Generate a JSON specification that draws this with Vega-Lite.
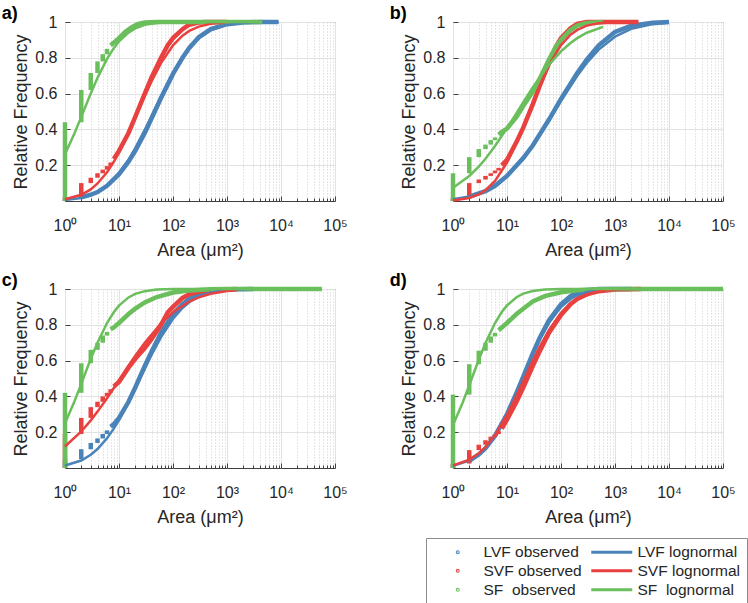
{
"$schema":"https://vega.github.io/schema/vega-lite/v6.json",
"padding":{"left":1,"top":4,"right":0,"bottom":0},
"background":"white",
"config":{"font":"Liberation Sans","view":{"stroke":"#404040","strokeWidth":1},
 "title":{"anchor":"start","frame":"bounds","fontSize":18,"fontWeight":"bold","color":"#000000","font":"Liberation Sans","dx":-11,"offset":-10},
 "axis":{"labelFont":"Liberation Sans","titleFont":"Liberation Sans","labelColor":"#262626","titleColor":"#262626","titleFontWeight":"normal","labelFontSize":16,"titleFontSize":18,"domain":false,"tickColor":"#404040","gridColor":"#e2e2e2"},
 "legend":{"labelFont":"Liberation Sans","orient":"none","legendX":361,"legendY":516,"columns":2,"direction":"vertical","labelFontSize":15.5,"labelColor":"#262626","symbolSize":100,"symbolStrokeWidth":3,"symbolOpacity":1,"symbolOffset":18,"strokeColor":"#8c8c8c","fillColor":"#ffffff","padding":6,"rowPadding":2,"columnPadding":3,"labelOffset":18}
},
"datasets":{
"a":[
{"s":"LVF observed","g":"1","x":1,"y":0},{"s":"LVF observed","g":"1","x":1,"y":0.012},
{"s":"LVF observed","g":"c","x":2,"y":0.02},{"s":"LVF observed","g":"c","x":3,"y":0.035},{"s":"LVF observed","g":"c","x":4,"y":0.05},{"s":"LVF observed","g":"c","x":6,"y":0.085},{"s":"LVF observed","g":"c","x":10,"y":0.15},{"s":"LVF observed","g":"c","x":15,"y":0.22},{"s":"LVF observed","g":"c","x":20,"y":0.28},{"s":"LVF observed","g":"c","x":30,"y":0.38},{"s":"LVF observed","g":"c","x":40,"y":0.46},{"s":"LVF observed","g":"c","x":60,"y":0.575},{"s":"LVF observed","g":"c","x":100,"y":0.71},{"s":"LVF observed","g":"c","x":150,"y":0.8},{"s":"LVF observed","g":"c","x":200,"y":0.855},{"s":"LVF observed","g":"c","x":300,"y":0.915},{"s":"LVF observed","g":"c","x":500,"y":0.96},{"s":"LVF observed","g":"c","x":1000,"y":0.988},{"s":"LVF observed","g":"c","x":2000,"y":0.997},{"s":"LVF observed","g":"c","x":4000,"y":1},{"s":"LVF observed","g":"c","x":9000,"y":1},
{"s":"LVF lognormal","g":"L","x":1,"y":0.005},{"s":"LVF lognormal","g":"L","x":2,"y":0.017},{"s":"LVF lognormal","g":"L","x":3,"y":0.032},{"s":"LVF lognormal","g":"L","x":4,"y":0.049},{"s":"LVF lognormal","g":"L","x":6,"y":0.085},{"s":"LVF lognormal","g":"L","x":10,"y":0.154},{"s":"LVF lognormal","g":"L","x":15,"y":0.23},{"s":"LVF lognormal","g":"L","x":20,"y":0.295},{"s":"LVF lognormal","g":"L","x":30,"y":0.397},{"s":"LVF lognormal","g":"L","x":40,"y":0.475},{"s":"LVF lognormal","g":"L","x":60,"y":0.586},{"s":"LVF lognormal","g":"L","x":100,"y":0.715},{"s":"LVF lognormal","g":"L","x":150,"y":0.803},{"s":"LVF lognormal","g":"L","x":200,"y":0.852},{"s":"LVF lognormal","g":"L","x":300,"y":0.908},{"s":"LVF lognormal","g":"L","x":500,"y":0.954},{"s":"LVF lognormal","g":"L","x":1000,"y":0.985},{"s":"LVF lognormal","g":"L","x":2000,"y":0.996},{"s":"LVF lognormal","g":"L","x":5000,"y":1},{"s":"LVF lognormal","g":"L","x":9000,"y":1},
{"s":"SVF observed","g":"1","x":1,"y":0},{"s":"SVF observed","g":"1","x":1,"y":0.02},
{"s":"SVF observed","g":"2","x":2,"y":0.02},{"s":"SVF observed","g":"2","x":2,"y":0.1},
{"s":"SVF observed","g":"3","x":3,"y":0.1},{"s":"SVF observed","g":"3","x":3,"y":0.13},
{"s":"SVF observed","g":"4","x":4,"y":0.13},{"s":"SVF observed","g":"4","x":4,"y":0.155},
{"s":"SVF observed","g":"5","x":5,"y":0.155},{"s":"SVF observed","g":"5","x":5,"y":0.175},
{"s":"SVF observed","g":"6","x":6,"y":0.175},{"s":"SVF observed","g":"6","x":6,"y":0.195},
{"s":"SVF observed","g":"7","x":7,"y":0.195},{"s":"SVF observed","g":"7","x":7,"y":0.215},
{"s":"SVF observed","g":"c","x":8,"y":0.235},{"s":"SVF observed","g":"c","x":10,"y":0.28},{"s":"SVF observed","g":"c","x":15,"y":0.38},{"s":"SVF observed","g":"c","x":20,"y":0.47},{"s":"SVF observed","g":"c","x":30,"y":0.6},{"s":"SVF observed","g":"c","x":40,"y":0.69},{"s":"SVF observed","g":"c","x":60,"y":0.8},{"s":"SVF observed","g":"c","x":80,"y":0.87},{"s":"SVF observed","g":"c","x":100,"y":0.91},{"s":"SVF observed","g":"c","x":150,"y":0.96},{"s":"SVF observed","g":"c","x":200,"y":0.985},{"s":"SVF observed","g":"c","x":300,"y":0.997},{"s":"SVF observed","g":"c","x":400,"y":1},{"s":"SVF observed","g":"c","x":1000,"y":1},
{"s":"SVF lognormal","g":"L","x":1,"y":0.01},{"s":"SVF lognormal","g":"L","x":2,"y":0.035},{"s":"SVF lognormal","g":"L","x":3,"y":0.065},{"s":"SVF lognormal","g":"L","x":4,"y":0.098},{"s":"SVF lognormal","g":"L","x":6,"y":0.161},{"s":"SVF lognormal","g":"L","x":8,"y":0.219},{"s":"SVF lognormal","g":"L","x":10,"y":0.272},{"s":"SVF lognormal","g":"L","x":15,"y":0.381},{"s":"SVF lognormal","g":"L","x":20,"y":0.466},{"s":"SVF lognormal","g":"L","x":30,"y":0.587},{"s":"SVF lognormal","g":"L","x":40,"y":0.668},{"s":"SVF lognormal","g":"L","x":60,"y":0.77},{"s":"SVF lognormal","g":"L","x":100,"y":0.87},{"s":"SVF lognormal","g":"L","x":150,"y":0.924},{"s":"SVF lognormal","g":"L","x":200,"y":0.95},{"s":"SVF lognormal","g":"L","x":300,"y":0.974},{"s":"SVF lognormal","g":"L","x":500,"y":0.99},{"s":"SVF lognormal","g":"L","x":1000,"y":0.998},
{"s":"SF observed","g":"1","x":1,"y":0},{"s":"SF observed","g":"1","x":1,"y":0.44},
{"s":"SF observed","g":"2","x":2,"y":0.44},{"s":"SF observed","g":"2","x":2,"y":0.62},
{"s":"SF observed","g":"3","x":3,"y":0.62},{"s":"SF observed","g":"3","x":3,"y":0.715},
{"s":"SF observed","g":"4","x":4,"y":0.715},{"s":"SF observed","g":"4","x":4,"y":0.78},
{"s":"SF observed","g":"5","x":5,"y":0.78},{"s":"SF observed","g":"5","x":5,"y":0.82},
{"s":"SF observed","g":"6","x":6,"y":0.82},{"s":"SF observed","g":"6","x":6,"y":0.85},
{"s":"SF observed","g":"c","x":7,"y":0.87},{"s":"SF observed","g":"c","x":8,"y":0.885},{"s":"SF observed","g":"c","x":10,"y":0.91},{"s":"SF observed","g":"c","x":13,"y":0.945},{"s":"SF observed","g":"c","x":17,"y":0.97},{"s":"SF observed","g":"c","x":22,"y":0.988},{"s":"SF observed","g":"c","x":30,"y":0.997},{"s":"SF observed","g":"c","x":50,"y":1},{"s":"SF observed","g":"c","x":4500,"y":1},
{"s":"SF lognormal","g":"L","x":1,"y":0.261},{"s":"SF lognormal","g":"L","x":1.5,"y":0.378},{"s":"SF lognormal","g":"L","x":2,"y":0.47},{"s":"SF lognormal","g":"L","x":3,"y":0.601},{"s":"SF lognormal","g":"L","x":4,"y":0.688},{"s":"SF lognormal","g":"L","x":6,"y":0.794},{"s":"SF lognormal","g":"L","x":8,"y":0.854},{"s":"SF lognormal","g":"L","x":10,"y":0.892},{"s":"SF lognormal","g":"L","x":15,"y":0.941},{"s":"SF lognormal","g":"L","x":20,"y":0.964},{"s":"SF lognormal","g":"L","x":30,"y":0.984},{"s":"SF lognormal","g":"L","x":50,"y":0.995},{"s":"SF lognormal","g":"L","x":100,"y":0.999},{"s":"SF lognormal","g":"L","x":4500,"y":1}
],
"b":[
{"s":"LVF observed","g":"1","x":1,"y":0},{"s":"LVF observed","g":"1","x":1,"y":0.01},
{"s":"LVF observed","g":"c","x":2,"y":0.025},{"s":"LVF observed","g":"c","x":4,"y":0.055},{"s":"LVF observed","g":"c","x":6,"y":0.085},{"s":"LVF observed","g":"c","x":10,"y":0.14},{"s":"LVF observed","g":"c","x":20,"y":0.24},{"s":"LVF observed","g":"c","x":30,"y":0.31},{"s":"LVF observed","g":"c","x":60,"y":0.455},{"s":"LVF observed","g":"c","x":100,"y":0.57},{"s":"LVF observed","g":"c","x":200,"y":0.715},{"s":"LVF observed","g":"c","x":300,"y":0.79},{"s":"LVF observed","g":"c","x":500,"y":0.87},{"s":"LVF observed","g":"c","x":1000,"y":0.945},{"s":"LVF observed","g":"c","x":2000,"y":0.98},{"s":"LVF observed","g":"c","x":5000,"y":0.996},{"s":"LVF observed","g":"c","x":10000,"y":1},
{"s":"LVF lognormal","g":"L","x":1,"y":0.01},{"s":"LVF lognormal","g":"L","x":2,"y":0.025},{"s":"LVF lognormal","g":"L","x":4,"y":0.056},{"s":"LVF lognormal","g":"L","x":6,"y":0.085},{"s":"LVF lognormal","g":"L","x":10,"y":0.137},{"s":"LVF lognormal","g":"L","x":20,"y":0.235},{"s":"LVF lognormal","g":"L","x":30,"y":0.308},{"s":"LVF lognormal","g":"L","x":60,"y":0.449},{"s":"LVF lognormal","g":"L","x":100,"y":0.559},{"s":"LVF lognormal","g":"L","x":200,"y":0.7},{"s":"LVF lognormal","g":"L","x":300,"y":0.771},{"s":"LVF lognormal","g":"L","x":500,"y":0.846},{"s":"LVF lognormal","g":"L","x":1000,"y":0.918},{"s":"LVF lognormal","g":"L","x":2000,"y":0.962},{"s":"LVF lognormal","g":"L","x":5000,"y":0.988},{"s":"LVF lognormal","g":"L","x":10000,"y":0.996},
{"s":"SVF observed","g":"1","x":1,"y":0},{"s":"SVF observed","g":"1","x":1,"y":0.02},
{"s":"SVF observed","g":"2","x":2,"y":0.02},{"s":"SVF observed","g":"2","x":2,"y":0.1},
{"s":"SVF observed","g":"3","x":3,"y":0.1},{"s":"SVF observed","g":"3","x":3,"y":0.12},
{"s":"SVF observed","g":"4","x":4,"y":0.12},{"s":"SVF observed","g":"4","x":4,"y":0.14},
{"s":"SVF observed","g":"5","x":5,"y":0.14},{"s":"SVF observed","g":"5","x":5,"y":0.155},
{"s":"SVF observed","g":"6","x":6,"y":0.155},{"s":"SVF observed","g":"6","x":6,"y":0.17},
{"s":"SVF observed","g":"7","x":7,"y":0.17},{"s":"SVF observed","g":"7","x":7,"y":0.185},
{"s":"SVF observed","g":"c","x":8,"y":0.2},{"s":"SVF observed","g":"c","x":10,"y":0.23},{"s":"SVF observed","g":"c","x":15,"y":0.33},{"s":"SVF observed","g":"c","x":20,"y":0.41},{"s":"SVF observed","g":"c","x":30,"y":0.54},{"s":"SVF observed","g":"c","x":40,"y":0.64},{"s":"SVF observed","g":"c","x":60,"y":0.77},{"s":"SVF observed","g":"c","x":80,"y":0.86},{"s":"SVF observed","g":"c","x":100,"y":0.91},{"s":"SVF observed","g":"c","x":150,"y":0.965},{"s":"SVF observed","g":"c","x":200,"y":0.99},{"s":"SVF observed","g":"c","x":300,"y":1},{"s":"SVF observed","g":"c","x":2700,"y":1},
{"s":"SVF lognormal","g":"L","x":1,"y":0.003},{"s":"SVF lognormal","g":"L","x":2,"y":0.017},{"s":"SVF lognormal","g":"L","x":3,"y":0.037},{"s":"SVF lognormal","g":"L","x":4,"y":0.06},{"s":"SVF lognormal","g":"L","x":6,"y":0.112},{"s":"SVF lognormal","g":"L","x":10,"y":0.215},{"s":"SVF lognormal","g":"L","x":15,"y":0.326},{"s":"SVF lognormal","g":"L","x":20,"y":0.416},{"s":"SVF lognormal","g":"L","x":30,"y":0.55},{"s":"SVF lognormal","g":"L","x":40,"y":0.643},{"s":"SVF lognormal","g":"L","x":60,"y":0.759},{"s":"SVF lognormal","g":"L","x":100,"y":0.871},{"s":"SVF lognormal","g":"L","x":150,"y":0.929},{"s":"SVF lognormal","g":"L","x":200,"y":0.956},{"s":"SVF lognormal","g":"L","x":300,"y":0.98},{"s":"SVF lognormal","g":"L","x":500,"y":0.993},{"s":"SVF lognormal","g":"L","x":1000,"y":0.999},{"s":"SVF lognormal","g":"L","x":2700,"y":1},
{"s":"SF observed","g":"1","x":1,"y":0},{"s":"SF observed","g":"1","x":1,"y":0.155},
{"s":"SF observed","g":"2","x":2,"y":0.155},{"s":"SF observed","g":"2","x":2,"y":0.245},
{"s":"SF observed","g":"3","x":3,"y":0.245},{"s":"SF observed","g":"3","x":3,"y":0.29},
{"s":"SF observed","g":"4","x":4,"y":0.29},{"s":"SF observed","g":"4","x":4,"y":0.315},
{"s":"SF observed","g":"5","x":5,"y":0.315},{"s":"SF observed","g":"5","x":5,"y":0.34},
{"s":"SF observed","g":"6","x":6,"y":0.34},{"s":"SF observed","g":"6","x":6,"y":0.355},
{"s":"SF observed","g":"c","x":7,"y":0.37},{"s":"SF observed","g":"c","x":8,"y":0.385},{"s":"SF observed","g":"c","x":10,"y":0.405},{"s":"SF observed","g":"c","x":15,"y":0.47},{"s":"SF observed","g":"c","x":20,"y":0.53},{"s":"SF observed","g":"c","x":30,"y":0.61},{"s":"SF observed","g":"c","x":40,"y":0.68},{"s":"SF observed","g":"c","x":60,"y":0.79},{"s":"SF observed","g":"c","x":80,"y":0.86},{"s":"SF observed","g":"c","x":100,"y":0.9},{"s":"SF observed","g":"c","x":150,"y":0.955},{"s":"SF observed","g":"c","x":200,"y":0.98},{"s":"SF observed","g":"c","x":300,"y":0.995},{"s":"SF observed","g":"c","x":600,"y":1},
{"s":"SF lognormal","g":"L","x":1,"y":0.074},{"s":"SF lognormal","g":"L","x":2,"y":0.14},{"s":"SF lognormal","g":"L","x":3,"y":0.192},{"s":"SF lognormal","g":"L","x":4,"y":0.236},{"s":"SF lognormal","g":"L","x":6,"y":0.307},{"s":"SF lognormal","g":"L","x":10,"y":0.407},{"s":"SF lognormal","g":"L","x":15,"y":0.491},{"s":"SF lognormal","g":"L","x":20,"y":0.552},{"s":"SF lognormal","g":"L","x":30,"y":0.634},{"s":"SF lognormal","g":"L","x":40,"y":0.689},{"s":"SF lognormal","g":"L","x":60,"y":0.761},{"s":"SF lognormal","g":"L","x":100,"y":0.836},{"s":"SF lognormal","g":"L","x":150,"y":0.883},{"s":"SF lognormal","g":"L","x":200,"y":0.91},{"s":"SF lognormal","g":"L","x":300,"y":0.94},{"s":"SF lognormal","g":"L","x":600,"y":0.973}
],
"c":[
{"s":"LVF observed","g":"1","x":1,"y":0},{"s":"LVF observed","g":"1","x":1,"y":0.05},
{"s":"LVF observed","g":"2","x":2,"y":0.05},{"s":"LVF observed","g":"2","x":2,"y":0.105},
{"s":"LVF observed","g":"3","x":3,"y":0.105},{"s":"LVF observed","g":"3","x":3,"y":0.14},
{"s":"LVF observed","g":"4","x":4,"y":0.14},{"s":"LVF observed","g":"4","x":4,"y":0.165},
{"s":"LVF observed","g":"5","x":5,"y":0.165},{"s":"LVF observed","g":"5","x":5,"y":0.19},
{"s":"LVF observed","g":"6","x":6,"y":0.19},{"s":"LVF observed","g":"6","x":6,"y":0.21},
{"s":"LVF observed","g":"c","x":7,"y":0.23},{"s":"LVF observed","g":"c","x":8,"y":0.245},{"s":"LVF observed","g":"c","x":10,"y":0.28},{"s":"LVF observed","g":"c","x":15,"y":0.37},{"s":"LVF observed","g":"c","x":20,"y":0.45},{"s":"LVF observed","g":"c","x":30,"y":0.57},{"s":"LVF observed","g":"c","x":40,"y":0.65},{"s":"LVF observed","g":"c","x":60,"y":0.755},{"s":"LVF observed","g":"c","x":100,"y":0.86},{"s":"LVF observed","g":"c","x":150,"y":0.915},{"s":"LVF observed","g":"c","x":200,"y":0.945},{"s":"LVF observed","g":"c","x":300,"y":0.97},{"s":"LVF observed","g":"c","x":500,"y":0.988},{"s":"LVF observed","g":"c","x":1000,"y":0.997},{"s":"LVF observed","g":"c","x":3000,"y":1},
{"s":"LVF lognormal","g":"L","x":1,"y":0.014},{"s":"LVF lognormal","g":"L","x":2,"y":0.042},{"s":"LVF lognormal","g":"L","x":3,"y":0.074},{"s":"LVF lognormal","g":"L","x":4,"y":0.106},{"s":"LVF lognormal","g":"L","x":6,"y":0.166},{"s":"LVF lognormal","g":"L","x":8,"y":0.22},{"s":"LVF lognormal","g":"L","x":10,"y":0.268},{"s":"LVF lognormal","g":"L","x":15,"y":0.367},{"s":"LVF lognormal","g":"L","x":20,"y":0.444},{"s":"LVF lognormal","g":"L","x":30,"y":0.555},{"s":"LVF lognormal","g":"L","x":40,"y":0.632},{"s":"LVF lognormal","g":"L","x":60,"y":0.731},{"s":"LVF lognormal","g":"L","x":100,"y":0.834},{"s":"LVF lognormal","g":"L","x":150,"y":0.894},{"s":"LVF lognormal","g":"L","x":200,"y":0.926},{"s":"LVF lognormal","g":"L","x":300,"y":0.958},{"s":"LVF lognormal","g":"L","x":500,"y":0.981},{"s":"LVF lognormal","g":"L","x":1000,"y":0.995},{"s":"LVF lognormal","g":"L","x":3000,"y":1},
{"s":"SVF observed","g":"1","x":1,"y":0},{"s":"SVF observed","g":"1","x":1,"y":0.19},
{"s":"SVF observed","g":"2","x":2,"y":0.19},{"s":"SVF observed","g":"2","x":2,"y":0.28},
{"s":"SVF observed","g":"3","x":3,"y":0.28},{"s":"SVF observed","g":"3","x":3,"y":0.34},
{"s":"SVF observed","g":"4","x":4,"y":0.34},{"s":"SVF observed","g":"4","x":4,"y":0.37},
{"s":"SVF observed","g":"5","x":5,"y":0.37},{"s":"SVF observed","g":"5","x":5,"y":0.4},
{"s":"SVF observed","g":"6","x":6,"y":0.4},{"s":"SVF observed","g":"6","x":6,"y":0.42},
{"s":"SVF observed","g":"7","x":7,"y":0.42},{"s":"SVF observed","g":"7","x":7,"y":0.44},
{"s":"SVF observed","g":"c","x":8,"y":0.455},{"s":"SVF observed","g":"c","x":10,"y":0.48},{"s":"SVF observed","g":"c","x":15,"y":0.56},{"s":"SVF observed","g":"c","x":20,"y":0.61},{"s":"SVF observed","g":"c","x":30,"y":0.67},{"s":"SVF observed","g":"c","x":40,"y":0.72},{"s":"SVF observed","g":"c","x":60,"y":0.8},{"s":"SVF observed","g":"c","x":80,"y":0.87},{"s":"SVF observed","g":"c","x":100,"y":0.9},{"s":"SVF observed","g":"c","x":150,"y":0.95},{"s":"SVF observed","g":"c","x":200,"y":0.97},{"s":"SVF observed","g":"c","x":300,"y":0.985},{"s":"SVF observed","g":"c","x":500,"y":0.995},{"s":"SVF observed","g":"c","x":1500,"y":1},
{"s":"SVF lognormal","g":"L","x":1,"y":0.12},{"s":"SVF lognormal","g":"L","x":2,"y":0.204},{"s":"SVF lognormal","g":"L","x":3,"y":0.266},{"s":"SVF lognormal","g":"L","x":4,"y":0.315},{"s":"SVF lognormal","g":"L","x":6,"y":0.39},{"s":"SVF lognormal","g":"L","x":10,"y":0.49},{"s":"SVF lognormal","g":"L","x":15,"y":0.571},{"s":"SVF lognormal","g":"L","x":20,"y":0.627},{"s":"SVF lognormal","g":"L","x":30,"y":0.7},{"s":"SVF lognormal","g":"L","x":60,"y":0.808},{"s":"SVF lognormal","g":"L","x":100,"y":0.87},{"s":"SVF lognormal","g":"L","x":200,"y":0.93},{"s":"SVF lognormal","g":"L","x":300,"y":0.953},{"s":"SVF lognormal","g":"L","x":500,"y":0.973},{"s":"SVF lognormal","g":"L","x":1000,"y":0.989},{"s":"SVF lognormal","g":"L","x":1500,"y":0.993},
{"s":"SF observed","g":"1","x":1,"y":0},{"s":"SF observed","g":"1","x":1,"y":0.42},
{"s":"SF observed","g":"2","x":2,"y":0.42},{"s":"SF observed","g":"2","x":2,"y":0.585},
{"s":"SF observed","g":"3","x":3,"y":0.585},{"s":"SF observed","g":"3","x":3,"y":0.66},
{"s":"SF observed","g":"4","x":4,"y":0.66},{"s":"SF observed","g":"4","x":4,"y":0.7},
{"s":"SF observed","g":"5","x":5,"y":0.7},{"s":"SF observed","g":"5","x":5,"y":0.74},
{"s":"SF observed","g":"6","x":6,"y":0.74},{"s":"SF observed","g":"6","x":6,"y":0.76},
{"s":"SF observed","g":"c","x":7,"y":0.775},{"s":"SF observed","g":"c","x":8,"y":0.785},{"s":"SF observed","g":"c","x":10,"y":0.81},{"s":"SF observed","g":"c","x":15,"y":0.86},{"s":"SF observed","g":"c","x":20,"y":0.89},{"s":"SF observed","g":"c","x":30,"y":0.925},{"s":"SF observed","g":"c","x":50,"y":0.955},{"s":"SF observed","g":"c","x":100,"y":0.98},{"s":"SF observed","g":"c","x":200,"y":0.992},{"s":"SF observed","g":"c","x":500,"y":0.998},{"s":"SF observed","g":"c","x":1000,"y":1},{"s":"SF observed","g":"c","x":57000,"y":1},
{"s":"SF lognormal","g":"L","x":1,"y":0.25},{"s":"SF lognormal","g":"L","x":1.5,"y":0.373},{"s":"SF lognormal","g":"L","x":2,"y":0.47},{"s":"SF lognormal","g":"L","x":3,"y":0.61},{"s":"SF lognormal","g":"L","x":4,"y":0.7},{"s":"SF lognormal","g":"L","x":6,"y":0.81},{"s":"SF lognormal","g":"L","x":8,"y":0.87},{"s":"SF lognormal","g":"L","x":10,"y":0.907},{"s":"SF lognormal","g":"L","x":15,"y":0.953},{"s":"SF lognormal","g":"L","x":20,"y":0.973},{"s":"SF lognormal","g":"L","x":30,"y":0.988},{"s":"SF lognormal","g":"L","x":50,"y":0.997},{"s":"SF lognormal","g":"L","x":100,"y":1},{"s":"SF lognormal","g":"L","x":57000,"y":1}
],
"d":[
{"s":"LVF observed","g":"1","x":1,"y":0},{"s":"LVF observed","g":"1","x":1,"y":0.02},
{"s":"LVF observed","g":"c","x":2,"y":0.04},{"s":"LVF observed","g":"c","x":3,"y":0.075},{"s":"LVF observed","g":"c","x":4,"y":0.11},{"s":"LVF observed","g":"c","x":6,"y":0.18},{"s":"LVF observed","g":"c","x":10,"y":0.3},{"s":"LVF observed","g":"c","x":15,"y":0.42},{"s":"LVF observed","g":"c","x":20,"y":0.51},{"s":"LVF observed","g":"c","x":30,"y":0.64},{"s":"LVF observed","g":"c","x":40,"y":0.725},{"s":"LVF observed","g":"c","x":60,"y":0.825},{"s":"LVF observed","g":"c","x":100,"y":0.915},{"s":"LVF observed","g":"c","x":150,"y":0.96},{"s":"LVF observed","g":"c","x":200,"y":0.98},{"s":"LVF observed","g":"c","x":300,"y":0.993},{"s":"LVF observed","g":"c","x":500,"y":1},{"s":"LVF observed","g":"c","x":2000,"y":1},
{"s":"LVF lognormal","g":"L","x":1,"y":0.012},{"s":"LVF lognormal","g":"L","x":2,"y":0.041},{"s":"LVF lognormal","g":"L","x":3,"y":0.077},{"s":"LVF lognormal","g":"L","x":4,"y":0.115},{"s":"LVF lognormal","g":"L","x":6,"y":0.187},{"s":"LVF lognormal","g":"L","x":10,"y":0.309},{"s":"LVF lognormal","g":"L","x":15,"y":0.426},{"s":"LVF lognormal","g":"L","x":20,"y":0.514},{"s":"LVF lognormal","g":"L","x":30,"y":0.636},{"s":"LVF lognormal","g":"L","x":40,"y":0.715},{"s":"LVF lognormal","g":"L","x":60,"y":0.811},{"s":"LVF lognormal","g":"L","x":100,"y":0.899},{"s":"LVF lognormal","g":"L","x":150,"y":0.944},{"s":"LVF lognormal","g":"L","x":200,"y":0.965},{"s":"LVF lognormal","g":"L","x":300,"y":0.983},{"s":"LVF lognormal","g":"L","x":500,"y":0.994},{"s":"LVF lognormal","g":"L","x":1000,"y":0.999},{"s":"LVF lognormal","g":"L","x":2000,"y":1},
{"s":"SVF observed","g":"1","x":1,"y":0},{"s":"SVF observed","g":"1","x":1,"y":0.025},
{"s":"SVF observed","g":"2","x":2,"y":0.025},{"s":"SVF observed","g":"2","x":2,"y":0.1},
{"s":"SVF observed","g":"3","x":3,"y":0.1},{"s":"SVF observed","g":"3","x":3,"y":0.13},
{"s":"SVF observed","g":"4","x":4,"y":0.13},{"s":"SVF observed","g":"4","x":4,"y":0.155},
{"s":"SVF observed","g":"5","x":5,"y":0.155},{"s":"SVF observed","g":"5","x":5,"y":0.175},
{"s":"SVF observed","g":"6","x":6,"y":0.175},{"s":"SVF observed","g":"6","x":6,"y":0.19},
{"s":"SVF observed","g":"7","x":7,"y":0.19},{"s":"SVF observed","g":"7","x":7,"y":0.205},
{"s":"SVF observed","g":"c","x":8,"y":0.22},{"s":"SVF observed","g":"c","x":10,"y":0.27},{"s":"SVF observed","g":"c","x":15,"y":0.37},{"s":"SVF observed","g":"c","x":20,"y":0.45},{"s":"SVF observed","g":"c","x":30,"y":0.57},{"s":"SVF observed","g":"c","x":40,"y":0.65},{"s":"SVF observed","g":"c","x":60,"y":0.755},{"s":"SVF observed","g":"c","x":100,"y":0.855},{"s":"SVF observed","g":"c","x":150,"y":0.915},{"s":"SVF observed","g":"c","x":200,"y":0.945},{"s":"SVF observed","g":"c","x":300,"y":0.97},{"s":"SVF observed","g":"c","x":500,"y":0.988},{"s":"SVF observed","g":"c","x":1000,"y":0.997},{"s":"SVF observed","g":"c","x":3000,"y":1},
{"s":"SVF lognormal","g":"L","x":1,"y":0.015},{"s":"SVF lognormal","g":"L","x":2,"y":0.046},{"s":"SVF lognormal","g":"L","x":3,"y":0.082},{"s":"SVF lognormal","g":"L","x":4,"y":0.117},{"s":"SVF lognormal","g":"L","x":6,"y":0.184},{"s":"SVF lognormal","g":"L","x":10,"y":0.297},{"s":"SVF lognormal","g":"L","x":15,"y":0.403},{"s":"SVF lognormal","g":"L","x":20,"y":0.485},{"s":"SVF lognormal","g":"L","x":30,"y":0.599},{"s":"SVF lognormal","g":"L","x":40,"y":0.676},{"s":"SVF lognormal","g":"L","x":60,"y":0.772},{"s":"SVF lognormal","g":"L","x":100,"y":0.867},{"s":"SVF lognormal","g":"L","x":150,"y":0.919},{"s":"SVF lognormal","g":"L","x":200,"y":0.946},{"s":"SVF lognormal","g":"L","x":300,"y":0.971},{"s":"SVF lognormal","g":"L","x":500,"y":0.988},{"s":"SVF lognormal","g":"L","x":1000,"y":0.997},{"s":"SVF lognormal","g":"L","x":3000,"y":1},
{"s":"SF observed","g":"1","x":1,"y":0},{"s":"SF observed","g":"1","x":1,"y":0.41},
{"s":"SF observed","g":"2","x":2,"y":0.41},{"s":"SF observed","g":"2","x":2,"y":0.58},
{"s":"SF observed","g":"3","x":3,"y":0.58},{"s":"SF observed","g":"3","x":3,"y":0.655},
{"s":"SF observed","g":"4","x":4,"y":0.655},{"s":"SF observed","g":"4","x":4,"y":0.7},
{"s":"SF observed","g":"5","x":5,"y":0.7},{"s":"SF observed","g":"5","x":5,"y":0.735},
{"s":"SF observed","g":"6","x":6,"y":0.735},{"s":"SF observed","g":"6","x":6,"y":0.755},
{"s":"SF observed","g":"c","x":7,"y":0.77},{"s":"SF observed","g":"c","x":8,"y":0.785},{"s":"SF observed","g":"c","x":10,"y":0.81},{"s":"SF observed","g":"c","x":15,"y":0.86},{"s":"SF observed","g":"c","x":20,"y":0.89},{"s":"SF observed","g":"c","x":30,"y":0.93},{"s":"SF observed","g":"c","x":50,"y":0.96},{"s":"SF observed","g":"c","x":100,"y":0.982},{"s":"SF observed","g":"c","x":200,"y":0.993},{"s":"SF observed","g":"c","x":500,"y":0.998},{"s":"SF observed","g":"c","x":1000,"y":1},{"s":"SF observed","g":"c","x":100000,"y":1},
{"s":"SF lognormal","g":"L","x":1,"y":0.24},{"s":"SF lognormal","g":"L","x":1.5,"y":0.363},{"s":"SF lognormal","g":"L","x":2,"y":0.462},{"s":"SF lognormal","g":"L","x":3,"y":0.605},{"s":"SF lognormal","g":"L","x":4,"y":0.698},{"s":"SF lognormal","g":"L","x":6,"y":0.81},{"s":"SF lognormal","g":"L","x":8,"y":0.871},{"s":"SF lognormal","g":"L","x":10,"y":0.908},{"s":"SF lognormal","g":"L","x":15,"y":0.954},{"s":"SF lognormal","g":"L","x":20,"y":0.974},{"s":"SF lognormal","g":"L","x":30,"y":0.989},{"s":"SF lognormal","g":"L","x":50,"y":0.997},{"s":"SF lognormal","g":"L","x":100,"y":1},{"s":"SF lognormal","g":"L","x":100000,"y":1}
]
},
"columns":2,
"spacing":{"row":11,"column":41},
"concat":[
{"title":{"text":"a)"},"width":270,"height":179,"data":{"name":"a"},
 "encoding":{
  "x":{"field":"x","type":"quantitative","scale":{"type":"log","domain":[1,100000]},"axis":{"title":"Area (μm²)","values":[1,2,3,4,5,6,7,8,9,10,20,30,40,50,60,70,80,90,100,200,300,400,500,600,700,800,900,1000,2000,3000,4000,5000,6000,7000,8000,9000,10000,20000,30000,40000,50000,60000,70000,80000,90000,100000],"labelExpr":"datum.value==1?'10⁰':datum.value==10?'10¹':datum.value==100?'10²':datum.value==1000?'10³':datum.value==10000?'10⁴':datum.value==100000?'10⁵':''","labelOverlap":false,"labelFlush":false,"labelBound":false,"grid":true,"gridDash":{"condition":{"test":"indexof([1,10,100,1000,10000,100000],datum.value)<0","value":[1,2]},"value":[]},"gridColor":{"condition":{"test":"indexof([1,10,100,1000,10000,100000],datum.value)<0","value":"#cfcfcf"},"value":"#e2e2e2"},"tickSize":{"condition":{"test":"indexof([1,10,100,1000,10000,100000],datum.value)<0","value":-3},"value":-5},"labelPadding":21,"titlePadding":6}},
  "y":{"field":"y","type":"quantitative","scale":{"domain":[0,1],"nice":false,"zero":false},"axis":{"title":"Relative Frequency","values":[0.2,0.4,0.6,0.8,1],"format":".1~f","grid":true,"tickSize":-5,"labelPadding":13,"titlePadding":4}},
  "color":{"field":"s","type":"nominal","scale":{"domain":["LVF observed","SVF observed","SF observed","LVF lognormal","SVF lognormal","SF lognormal"],"range":["#4a83b8","#e8413f","#6abf5c","#4a83b8","#e8413f","#6abf5c"]},"legend":{"title":null,"labelExpr":"replace(datum.label,'SF ','SF\u00a0 ')","encode":{"symbols":{"update":{"fill":{"scale":"color","field":"value"},"stroke":{"scale":"color","field":"value"}}}}}}
 },
 "layer":[
  {"transform":[{"filter":"indexof(datum.s,'observed')>=0"}],"mark":{"type":"line","strokeWidth":4.5},"encoding":{"detail":{"field":"g"}}},
  {"transform":[{"filter":"indexof(datum.s,'observed')>=0"}],"mark":{"type":"point","filled":true,"size":14,"opacity":1},"encoding":{"shape":{"field":"s","type":"nominal","scale":{"domain":["LVF observed","SVF observed","SF observed","LVF lognormal","SVF lognormal","SF lognormal"],"range":["M-0.1,0A0.1,0.1 0 1,0 0.1,0A0.1,0.1 0 1,0 -0.1,0Z","M-0.1,0A0.1,0.1 0 1,0 0.1,0A0.1,0.1 0 1,0 -0.1,0Z","M-0.1,0A0.1,0.1 0 1,0 0.1,0A0.1,0.1 0 1,0 -0.1,0Z","M-4.1,0L4.1,0","M-4.1,0L4.1,0","M-4.1,0L4.1,0"]},"legend":{"title":null,"labelExpr":"replace(datum.label,'SF ','SF\u00a0 ')","encode":{"symbols":{"update":{"fill":{"scale":"color","field":"value"},"stroke":{"scale":"color","field":"value"}}}}}}}},
  {"transform":[{"filter":"indexof(datum.s,'lognormal')>=0"}],"mark":{"type":"line","strokeWidth":2.5},"encoding":{"detail":{"field":"g"}}}
 ]},
{"title":{"text":"b)"},"width":270,"height":179,"data":{"name":"b"},
 "encoding":{
  "x":{"field":"x","type":"quantitative","scale":{"type":"log","domain":[1,100000]},"axis":{"title":"Area (μm²)","values":[1,2,3,4,5,6,7,8,9,10,20,30,40,50,60,70,80,90,100,200,300,400,500,600,700,800,900,1000,2000,3000,4000,5000,6000,7000,8000,9000,10000,20000,30000,40000,50000,60000,70000,80000,90000,100000],"labelExpr":"datum.value==1?'10⁰':datum.value==10?'10¹':datum.value==100?'10²':datum.value==1000?'10³':datum.value==10000?'10⁴':datum.value==100000?'10⁵':''","labelOverlap":false,"labelFlush":false,"labelBound":false,"grid":true,"gridDash":{"condition":{"test":"indexof([1,10,100,1000,10000,100000],datum.value)<0","value":[1,2]},"value":[]},"gridColor":{"condition":{"test":"indexof([1,10,100,1000,10000,100000],datum.value)<0","value":"#cfcfcf"},"value":"#e2e2e2"},"tickSize":{"condition":{"test":"indexof([1,10,100,1000,10000,100000],datum.value)<0","value":-3},"value":-5},"labelPadding":21,"titlePadding":6}},
  "y":{"field":"y","type":"quantitative","scale":{"domain":[0,1],"nice":false,"zero":false},"axis":{"title":"Relative Frequency","values":[0.2,0.4,0.6,0.8,1],"format":".1~f","grid":true,"tickSize":-5,"labelPadding":13,"titlePadding":4}},
  "color":{"field":"s","type":"nominal","scale":{"domain":["LVF observed","SVF observed","SF observed","LVF lognormal","SVF lognormal","SF lognormal"],"range":["#4a83b8","#e8413f","#6abf5c","#4a83b8","#e8413f","#6abf5c"]},"legend":{"title":null,"labelExpr":"replace(datum.label,'SF ','SF\u00a0 ')","encode":{"symbols":{"update":{"fill":{"scale":"color","field":"value"},"stroke":{"scale":"color","field":"value"}}}}}}
 },
 "layer":[
  {"transform":[{"filter":"indexof(datum.s,'observed')>=0"}],"mark":{"type":"line","strokeWidth":4.5},"encoding":{"detail":{"field":"g"}}},
  {"transform":[{"filter":"indexof(datum.s,'observed')>=0"}],"mark":{"type":"point","filled":true,"size":14,"opacity":1},"encoding":{"shape":{"field":"s","type":"nominal","scale":{"domain":["LVF observed","SVF observed","SF observed","LVF lognormal","SVF lognormal","SF lognormal"],"range":["M-0.1,0A0.1,0.1 0 1,0 0.1,0A0.1,0.1 0 1,0 -0.1,0Z","M-0.1,0A0.1,0.1 0 1,0 0.1,0A0.1,0.1 0 1,0 -0.1,0Z","M-0.1,0A0.1,0.1 0 1,0 0.1,0A0.1,0.1 0 1,0 -0.1,0Z","M-4.1,0L4.1,0","M-4.1,0L4.1,0","M-4.1,0L4.1,0"]},"legend":{"title":null,"labelExpr":"replace(datum.label,'SF ','SF\u00a0 ')","encode":{"symbols":{"update":{"fill":{"scale":"color","field":"value"},"stroke":{"scale":"color","field":"value"}}}}}}}},
  {"transform":[{"filter":"indexof(datum.s,'lognormal')>=0"}],"mark":{"type":"line","strokeWidth":2.5},"encoding":{"detail":{"field":"g"}}}
 ]},
{"title":{"text":"c)"},"width":270,"height":179,"data":{"name":"c"},
 "encoding":{
  "x":{"field":"x","type":"quantitative","scale":{"type":"log","domain":[1,100000]},"axis":{"title":"Area (μm²)","values":[1,2,3,4,5,6,7,8,9,10,20,30,40,50,60,70,80,90,100,200,300,400,500,600,700,800,900,1000,2000,3000,4000,5000,6000,7000,8000,9000,10000,20000,30000,40000,50000,60000,70000,80000,90000,100000],"labelExpr":"datum.value==1?'10⁰':datum.value==10?'10¹':datum.value==100?'10²':datum.value==1000?'10³':datum.value==10000?'10⁴':datum.value==100000?'10⁵':''","labelOverlap":false,"labelFlush":false,"labelBound":false,"grid":true,"gridDash":{"condition":{"test":"indexof([1,10,100,1000,10000,100000],datum.value)<0","value":[1,2]},"value":[]},"gridColor":{"condition":{"test":"indexof([1,10,100,1000,10000,100000],datum.value)<0","value":"#cfcfcf"},"value":"#e2e2e2"},"tickSize":{"condition":{"test":"indexof([1,10,100,1000,10000,100000],datum.value)<0","value":-3},"value":-5},"labelPadding":21,"titlePadding":6}},
  "y":{"field":"y","type":"quantitative","scale":{"domain":[0,1],"nice":false,"zero":false},"axis":{"title":"Relative Frequency","values":[0.2,0.4,0.6,0.8,1],"format":".1~f","grid":true,"tickSize":-5,"labelPadding":13,"titlePadding":4}},
  "color":{"field":"s","type":"nominal","scale":{"domain":["LVF observed","SVF observed","SF observed","LVF lognormal","SVF lognormal","SF lognormal"],"range":["#4a83b8","#e8413f","#6abf5c","#4a83b8","#e8413f","#6abf5c"]},"legend":{"title":null,"labelExpr":"replace(datum.label,'SF ','SF\u00a0 ')","encode":{"symbols":{"update":{"fill":{"scale":"color","field":"value"},"stroke":{"scale":"color","field":"value"}}}}}}
 },
 "layer":[
  {"transform":[{"filter":"indexof(datum.s,'observed')>=0"}],"mark":{"type":"line","strokeWidth":4.5},"encoding":{"detail":{"field":"g"}}},
  {"transform":[{"filter":"indexof(datum.s,'observed')>=0"}],"mark":{"type":"point","filled":true,"size":14,"opacity":1},"encoding":{"shape":{"field":"s","type":"nominal","scale":{"domain":["LVF observed","SVF observed","SF observed","LVF lognormal","SVF lognormal","SF lognormal"],"range":["M-0.1,0A0.1,0.1 0 1,0 0.1,0A0.1,0.1 0 1,0 -0.1,0Z","M-0.1,0A0.1,0.1 0 1,0 0.1,0A0.1,0.1 0 1,0 -0.1,0Z","M-0.1,0A0.1,0.1 0 1,0 0.1,0A0.1,0.1 0 1,0 -0.1,0Z","M-4.1,0L4.1,0","M-4.1,0L4.1,0","M-4.1,0L4.1,0"]},"legend":{"title":null,"labelExpr":"replace(datum.label,'SF ','SF\u00a0 ')","encode":{"symbols":{"update":{"fill":{"scale":"color","field":"value"},"stroke":{"scale":"color","field":"value"}}}}}}}},
  {"transform":[{"filter":"indexof(datum.s,'lognormal')>=0"}],"mark":{"type":"line","strokeWidth":2.5},"encoding":{"detail":{"field":"g"}}}
 ]},
{"title":{"text":"d)"},"width":270,"height":179,"data":{"name":"d"},
 "encoding":{
  "x":{"field":"x","type":"quantitative","scale":{"type":"log","domain":[1,100000]},"axis":{"title":"Area (μm²)","values":[1,2,3,4,5,6,7,8,9,10,20,30,40,50,60,70,80,90,100,200,300,400,500,600,700,800,900,1000,2000,3000,4000,5000,6000,7000,8000,9000,10000,20000,30000,40000,50000,60000,70000,80000,90000,100000],"labelExpr":"datum.value==1?'10⁰':datum.value==10?'10¹':datum.value==100?'10²':datum.value==1000?'10³':datum.value==10000?'10⁴':datum.value==100000?'10⁵':''","labelOverlap":false,"labelFlush":false,"labelBound":false,"grid":true,"gridDash":{"condition":{"test":"indexof([1,10,100,1000,10000,100000],datum.value)<0","value":[1,2]},"value":[]},"gridColor":{"condition":{"test":"indexof([1,10,100,1000,10000,100000],datum.value)<0","value":"#cfcfcf"},"value":"#e2e2e2"},"tickSize":{"condition":{"test":"indexof([1,10,100,1000,10000,100000],datum.value)<0","value":-3},"value":-5},"labelPadding":21,"titlePadding":6}},
  "y":{"field":"y","type":"quantitative","scale":{"domain":[0,1],"nice":false,"zero":false},"axis":{"title":"Relative Frequency","values":[0.2,0.4,0.6,0.8,1],"format":".1~f","grid":true,"tickSize":-5,"labelPadding":13,"titlePadding":4}},
  "color":{"field":"s","type":"nominal","scale":{"domain":["LVF observed","SVF observed","SF observed","LVF lognormal","SVF lognormal","SF lognormal"],"range":["#4a83b8","#e8413f","#6abf5c","#4a83b8","#e8413f","#6abf5c"]},"legend":{"title":null,"labelExpr":"replace(datum.label,'SF ','SF\u00a0 ')","encode":{"symbols":{"update":{"fill":{"scale":"color","field":"value"},"stroke":{"scale":"color","field":"value"}}}}}}
 },
 "layer":[
  {"transform":[{"filter":"indexof(datum.s,'observed')>=0"}],"mark":{"type":"line","strokeWidth":4.5},"encoding":{"detail":{"field":"g"}}},
  {"transform":[{"filter":"indexof(datum.s,'observed')>=0"}],"mark":{"type":"point","filled":true,"size":14,"opacity":1},"encoding":{"shape":{"field":"s","type":"nominal","scale":{"domain":["LVF observed","SVF observed","SF observed","LVF lognormal","SVF lognormal","SF lognormal"],"range":["M-0.1,0A0.1,0.1 0 1,0 0.1,0A0.1,0.1 0 1,0 -0.1,0Z","M-0.1,0A0.1,0.1 0 1,0 0.1,0A0.1,0.1 0 1,0 -0.1,0Z","M-0.1,0A0.1,0.1 0 1,0 0.1,0A0.1,0.1 0 1,0 -0.1,0Z","M-4.1,0L4.1,0","M-4.1,0L4.1,0","M-4.1,0L4.1,0"]},"legend":{"title":null,"labelExpr":"replace(datum.label,'SF ','SF\u00a0 ')","encode":{"symbols":{"update":{"fill":{"scale":"color","field":"value"},"stroke":{"scale":"color","field":"value"}}}}}}}},
  {"transform":[{"filter":"indexof(datum.s,'lognormal')>=0"}],"mark":{"type":"line","strokeWidth":2.5},"encoding":{"detail":{"field":"g"}}}
 ]}
]
}
